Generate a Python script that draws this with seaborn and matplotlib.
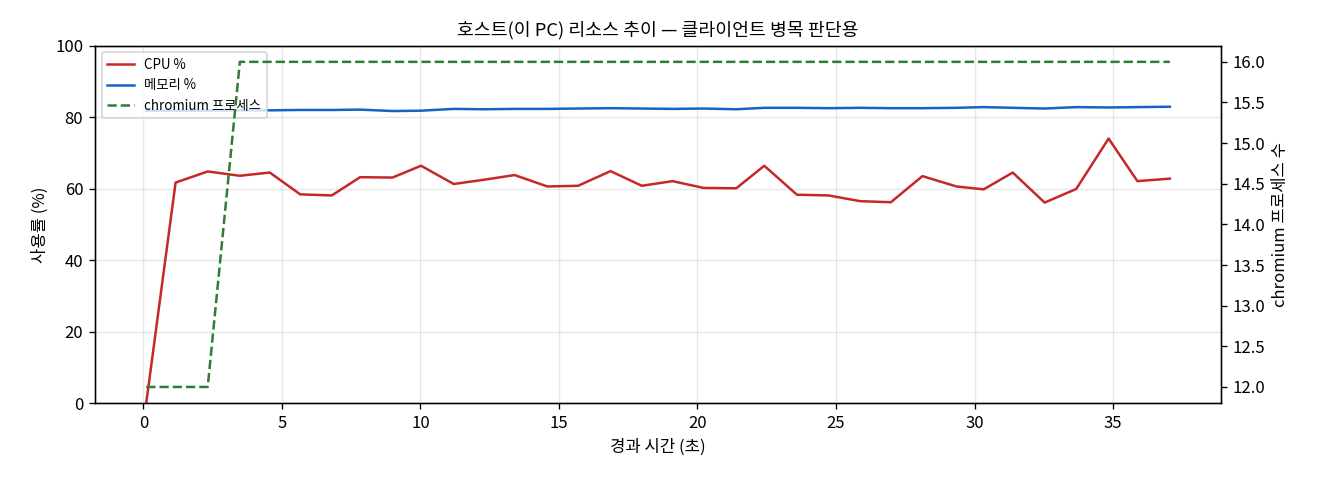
import numpy as np
import pandas as pd
import matplotlib
matplotlib.use("Agg")
import matplotlib.pyplot as plt
import seaborn as sns

# elapsed time (s) and host samples
elapsed = [0.1, 1.16, 2.32, 3.48, 4.56, 5.66, 6.8, 7.82, 8.99, 10.02, 11.2, 12.3,
           13.4, 14.58, 15.69, 16.86, 17.99, 19.1, 20.22, 21.4, 22.41, 23.59, 24.73,
           25.87, 26.98, 28.12, 29.35, 30.33, 31.38, 32.53, 33.67, 34.84, 35.88, 37.05]
cpu_pct = [0.0, 61.7, 64.8, 63.6, 64.5, 58.4, 58.1, 63.2, 63.1, 66.4, 61.3, 62.5,
           63.8, 60.6, 60.8, 64.9, 60.8, 62.1, 60.2, 60.1, 66.4, 58.3, 58.1,
           56.5, 56.2, 63.5, 60.6, 59.8, 64.5, 56.1, 59.9, 74.0, 62.1, 62.8]
mem_pct = [81.8, 81.8, 81.8, 81.9, 81.9, 82.0, 82.0, 82.1, 81.7, 81.8, 82.3, 82.2,
           82.3, 82.3, 82.4, 82.5, 82.4, 82.3, 82.4, 82.2, 82.6, 82.6, 82.5,
           82.6, 82.5, 82.5, 82.6, 82.8, 82.6, 82.4, 82.8, 82.7, 82.8, 82.9]
chromium_procs = [12, 12, 12, 16, 16, 16, 16, 16, 16, 16, 16, 16,
                  16, 16, 16, 16, 16, 16, 16, 16, 16, 16, 16,
                  16, 16, 16, 16, 16, 16, 16, 16, 16, 16, 16]

df = pd.DataFrame({'t': elapsed, 'cpu': cpu_pct, 'mem': mem_pct, 'procs': chromium_procs})

plt.rcParams['font.family'] = ['Noto Sans CJK KR', 'DejaVu Sans']
plt.rcParams['axes.unicode_minus'] = False

fig, ax = plt.subplots(figsize=(11, 4), dpi=120)
fig.subplots_adjust(left=0.072, right=0.925, top=0.905, bottom=0.16)

sns.lineplot(data=df, x='t', y='cpu', ax=ax, color='#c62828', linewidth=1.5, label='CPU %')
sns.lineplot(data=df, x='t', y='mem', ax=ax, color='#1565c0', linewidth=1.5, label='메모리 %')
ax.set_ylim(0, 100)
ax.set_xlabel('경과 시간 (초)')
ax.set_ylabel('사용률 (%)')
ax.grid(alpha=0.3)

ax2 = ax.twinx()
sns.lineplot(data=df, x='t', y='procs', ax=ax2, color='#2e7d32', linewidth=1.5,
             linestyle='--', label='chromium 프로세스')
ax2.set_ylabel('chromium 프로세스 수')
ax2.set_xlabel('')
if ax2.get_legend() is not None:
    ax2.get_legend().remove()

h1, l1 = ax.get_legend_handles_labels()
h2, l2 = ax2.get_legend_handles_labels()
ax.legend(h1 + h2, l1 + l2, loc='upper left', fontsize=8)

ax.set_title('호스트(이 PC) 리소스 추이 — 클라이언트 병목 판단용', fontsize=11)

fig.savefig('out.png')
